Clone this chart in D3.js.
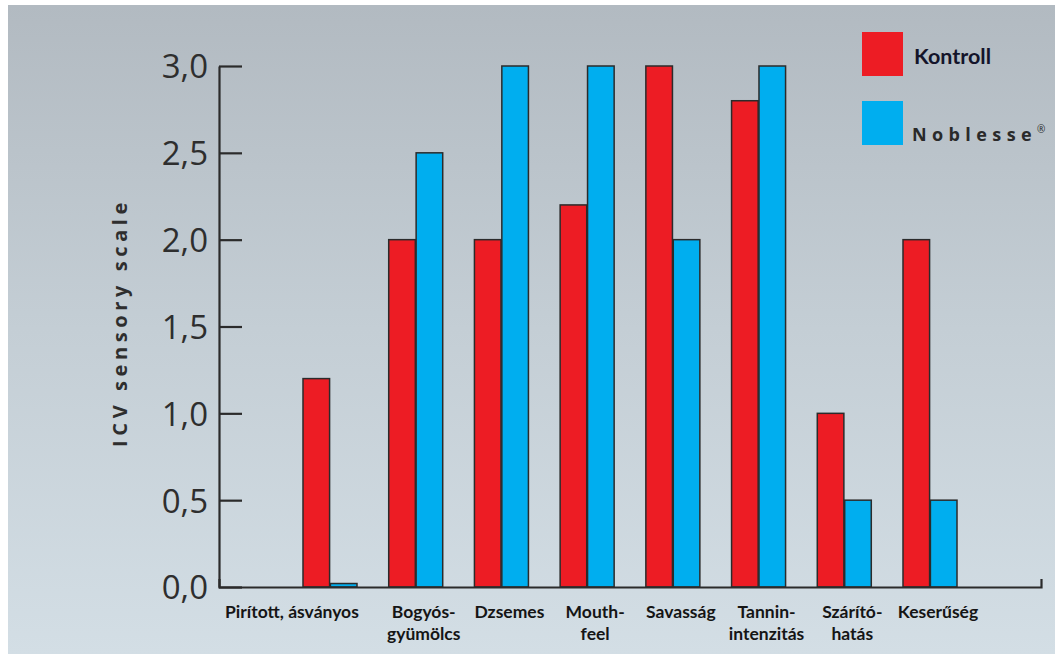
<!DOCTYPE html>
<html>
<head>
<meta charset="utf-8">
<script src="https://cdn.jsdelivr.net/npm/d3@7"></script>
<style>
  html, body { margin: 0; padding: 0; background: #ffffff; }
  svg { display: block; }
</style>
</head>
<body>
<svg id="chart" width="1055" height="654"></svg>
<script>
// Sensory profile: Kontroll vs Noblesse, ICV sensory scale
const categories = [
  ["Pirított, ásványos"],
  ["Bogyós-", "gyümölcs"],
  ["Dzsemes"],
  ["Mouth-", "feel"],
  ["Savasság"],
  ["Tannin-", "intenzitás"],
  ["Szárító-", "hatás"],
  ["Keserűség"]
];
const categoryKeys = categories.map(c => c.join(""));
const kontroll = [1.2, 2.0, 2.0, 2.2, 3.0, 2.8, 1.0, 2.0];
const noblesse = [0.02, 2.5, 3.0, 3.0, 2.0, 3.0, 0.5, 0.5];
const yTicks = [0, 0.5, 1.0, 1.5, 2.0, 2.5, 3.0];
const seriesNames = ["Kontroll", "Noblesse"];
const seriesColors = ["#ed1c24", "#00aeef"];

const W = 1055, H = 654;
const svg = d3.select("#chart");

// backdrop: grey-blue gradient panel
const defs = svg.append("defs");
const grad = defs.append("linearGradient").attr("id", "bg")
  .attr("x1", 0).attr("y1", 0).attr("x2", 0).attr("y2", 1);
grad.append("stop").attr("offset", "0%").attr("stop-color", "#b2bac1");
grad.append("stop").attr("offset", "50%").attr("stop-color", "#c4ced5");
grad.append("stop").attr("offset", "100%").attr("stop-color", "#d3dee5");
svg.append("rect").attr("x", 8).attr("y", 5).attr("width", W - 8).attr("height", H - 5)
  .attr("fill", "url(#bg)");

const plot = { left: 219, right: 1041, top: 66, bottom: 587 };

const x = d3.scaleBand()
  .domain(categoryKeys)
  .range([plot.left, plot.right])
  .paddingInner(0.37)
  .paddingOuter(0.98)
  .align(0.5);

const y = d3.scaleLinear().domain([0, 3]).range([plot.bottom, plot.top]);

const inner = d3.scaleBand().domain(seriesNames).range([0, x.bandwidth()]).paddingInner(0.03);

// bars
const barData = [];
categoryKeys.forEach((k, i) => {
  barData.push({ cat: k, s: 0, v: kontroll[i] });
  barData.push({ cat: k, s: 1, v: noblesse[i] });
});
svg.append("g").selectAll("rect").data(barData).join("rect")
  .attr("x", d => x(d.cat) + inner(seriesNames[d.s]))
  .attr("y", d => y(d.v))
  .attr("width", inner.bandwidth())
  .attr("height", d => y(0) - y(d.v))
  .attr("fill", d => seriesColors[d.s])
  .attr("stroke", "#2b2b2b")
  .attr("stroke-width", 1.5);

// y axis with inward ticks
const yAxis = d3.axisLeft(y)
  .tickValues(yTicks)
  .tickSizeInner(-23)
  .tickSizeOuter(0)
  .tickPadding(11)
  .tickFormat(d => d3.format(".1f")(d).replace(".", ","));
const yg = svg.append("g").attr("transform", `translate(${plot.left},0)`).call(yAxis);
yg.select(".domain").attr("stroke", "#2b2b2b").attr("stroke-width", 2.2);
yg.selectAll(".tick line").attr("stroke", "#2b2b2b").attr("stroke-width", 2.2);
yg.selectAll(".tick text")
  .attr("fill", "#2e2e2e")
  .attr("font-family", "'Open Sans', sans-serif")
  .attr("font-size", 33)
  .attr("font-weight", 400)
  .attr("dy", "0.36em");

// x axis baseline with end cap
const xAxis = d3.axisBottom(x).tickSize(0).tickSizeOuter(-8).tickFormat("");
const xg = svg.append("g").attr("transform", `translate(0,${plot.bottom})`).call(xAxis);
xg.select(".domain").attr("stroke", "#2b2b2b").attr("stroke-width", 2.2).attr("fill", "none");

// category labels
const labelG = svg.append("g")
  .attr("font-family", "Lato, 'Open Sans', sans-serif")
  .attr("font-weight", 700)
  .attr("font-size", 17.5)
  .attr("fill", "#151515");
categories.forEach((lines, i) => {
  const k = categoryKeys[i];
  const t = labelG.append("text").attr("text-anchor", "middle");
  lines.forEach((ln, j) => {
    t.append("tspan").attr("x", 0).attr("dy", j === 0 ? 0 : 22).text(ln);
  });
  const w = t.node().getBBox().width;
  let cx = x(k) + x.bandwidth() / 2 + 8;
  // labels wider than their slot are right-aligned to the bar group
  if (w > x.step()) cx = x(k) + x.bandwidth() + 2 - w / 2;
  t.attr("transform", `translate(${cx},618)`);
});

// y axis title
svg.append("text")
  .attr("transform", `translate(127,${(plot.top + plot.bottom) / 2 - 4}) rotate(-90)`)
  .attr("text-anchor", "middle")
  .attr("font-family", "'Open Sans', sans-serif")
  .attr("font-weight", 700)
  .attr("font-size", 20)
  .attr("letter-spacing", "4.6px")
  .attr("fill", "#2e2e2e")
  .text("ICV sensory scale");

// legend
const legend = svg.append("g");
legend.append("rect").attr("x", 862).attr("y", 32).attr("width", 41).attr("height", 44)
  .attr("fill", seriesColors[0]);
legend.append("rect").attr("x", 862).attr("y", 101).attr("width", 41).attr("height", 44)
  .attr("fill", seriesColors[1]);
legend.append("text")
  .attr("x", 914).attr("y", 64)
  .attr("font-family", "Lato, 'Open Sans', sans-serif")
  .attr("font-weight", 700)
  .attr("font-size", 21.5)
  .attr("fill", "#14142a")
  .text(seriesNames[0]);
const nob = legend.append("text")
  .attr("x", 912).attr("y", 141)
  .attr("font-family", "'Open Sans', sans-serif")
  .attr("font-weight", 700)
  .attr("font-size", 18)
  .attr("letter-spacing", "5.4px")
  .attr("fill", "#2a2a2a");
nob.append("tspan").text(seriesNames[1]);
nob.append("tspan").attr("font-size", 10).attr("font-weight", 400).attr("dy", -8)
  .attr("letter-spacing", "0px").text("®");
</script>
</body>
</html>
